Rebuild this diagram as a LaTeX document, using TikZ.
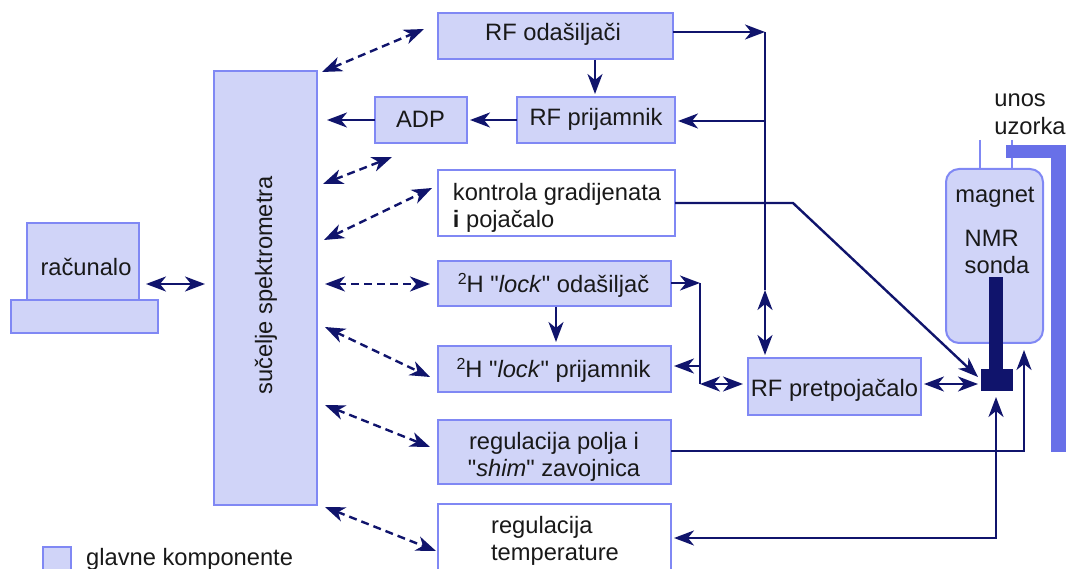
\documentclass[tikz,border=0pt]{standalone}
\usepackage{fontspec}
\setmainfont{Liberation Sans}[Ligatures=TeXOff]
\usetikzlibrary{arrows.meta}
\definecolor{boxfill}{HTML}{D0D4F8}
\definecolor{boxline}{HTML}{8088F4}
\definecolor{arrowc}{HTML}{10146C}
\definecolor{barc}{HTML}{6870E8}
\newcommand{\suptwo}{{\fontsize{16}{16}\selectfont\raisebox{8pt}{2}}}
\tikzset{
  box/.style={draw=boxline,line width=2pt,fill=boxfill,inner sep=0pt,outer sep=0pt,align=center},
  whitebox/.style={box,fill=white},
  lab/.style={inner sep=0pt,align=center,font=\fontsize{23.7}{27.5}\selectfont,text=black!90},
  tipf/.tip={Stealth[length=20pt,width=15pt,inset=6pt]},
  solidarrow/.style={draw=arrowc,line width=2.4pt,-{tipf}},
  bothsolid/.style={draw=arrowc,line width=2.4pt,{tipf}-{tipf}},
  bothdash/.style={draw=arrowc,line width=2.4pt,{tipf}-{tipf},dash pattern=on 8pt off 5pt},
  plainline/.style={draw=arrowc,line width=2.4pt},
  thinline/.style={draw=boxline,line width=1.5pt},
  solidblock/.style={fill=arrowc,draw=none,inner sep=0pt,outer sep=0pt},
  barblock/.style={fill=barc,draw=none,inner sep=0pt,outer sep=0pt},
}
\begin{document}
\begin{tikzpicture}[x=1pt,y=-1pt]
\useasboundingbox (0,0) rectangle (1066,569);
% large components
\node[box,minimum width=103,minimum height=434] (sucelje) at (265.5,288) {};
\node[lab,rotate=90] (suceljet) at (266,285.5) {sučelje spektrometra};
\node[box,minimum width=147,minimum height=33] (tipke) at (84.5,316.5) {};
\node[box,minimum width=112,minimum height=77] (racunalo) at (83,261.5) {};
\node[lab] (racunalot) at (86,267) {računalo};
% boxes
\node[box,minimum width=235,minimum height=46] (odas) at (555.5,36) {};
\node[lab] (odast) at (553,34) {RF odašiljači};
\node[box,minimum width=158,minimum height=46] (prij) at (596,120) {};
\node[lab] (prijt) at (596,119) {RF prijamnik};
\node[box,minimum width=92,minimum height=46] (adp) at (421,120) {};
\node[lab] (adpt) at (420.5,119) {ADP};
\node[whitebox,minimum width=237,minimum height=66] (grad) at (556.5,203) {};
\node[lab,align=left] (gradt) at (557,208) {kontrola gradijenata\\\textbf{i} pojačalo};
\node[box,minimum width=233,minimum height=45] (lockod) at (554.5,283.5) {};
\node[lab] (lockodt) at (553.5,285) {\suptwo H "\textit{lock}" odašiljač};
\node[box,minimum width=233,minimum height=46] (lockpr) at (554.5,369) {};
\node[lab] (lockprt) at (553.5,370) {\suptwo H "\textit{lock}" prijamnik};
\node[box,minimum width=233,minimum height=64] (polje) at (554.5,452) {};
\node[lab] (poljet) at (554,457) {regulacija polja i\\"\textit{shim}" zavojnica};
\node[whitebox,minimum width=233,minimum height=68] (temp) at (554.5,538) {};
\node[lab,align=left] (tempt) at (555,541) {regulacija\\temperature};
\node[box,minimum width=173,minimum height=57] (pret) at (834.5,386.5) {};
\node[lab] (prett) at (834.5,390) {RF pretpojačalo};
% magnet
\draw[thinline] (980,140) -- (980,169);
\draw[thinline] (1012,140) -- (1012,169);
\node[box,rounded corners=13pt,minimum width=97,minimum height=174] (magnet) at (994.5,256) {};
\node[lab] (magnett) at (995,197) {magnet};
\node[lab,align=left] (sondat) at (997,252) {NMR\\sonda};
\node[barblock,minimum width=60,minimum height=12.5] (bartop) at (1036,151.5) {};
\node[barblock,minimum width=15,minimum height=294] (barright) at (1058.5,305) {};
\node[lab,align=left] (unos) at (1030,114) {unos\\uzorka};
\node[solidblock,minimum width=14,minimum height=94] (stem) at (996,324) {};
\node[solidblock,minimum width=32,minimum height=22] (probe) at (996.5,380) {};
% legend
\node[box,minimum width=28,minimum height=26] (legbox) at (56.5,560) {};
\node[lab,anchor=base west] (legt) at (86,565) {glavne komponente};
% free ends
\coordinate (sA) at (322,72); \coordinate (oA) at (424,29);
\coordinate (sB) at (323,184); \coordinate (aB) at (392,157);
\coordinate (sC) at (324,240); \coordinate (gC) at (432,188);
\coordinate (sD) at (325,284); \coordinate (lD) at (430,284);
\coordinate (sE) at (325,327); \coordinate (lE) at (430,377);
\coordinate (sF) at (325,405); \coordinate (pF) at (430,447);
\coordinate (sG) at (325,507); \coordinate (tG) at (436,551);
\coordinate (j1) at (765,32);
\coordinate (j2) at (765,121);
\coordinate (j3) at (765,290);
\coordinate (g1) at (793,203);
\coordinate (l1) at (700,283);
\coordinate (l2) at (700,366);
\coordinate (l3) at (700,384);
\coordinate (m1) at (1024,451);
\coordinate (m2) at (1024,350);
\coordinate (t1) at (996,538);
% dashed double arrows
\draw[bothdash] (sA) -- (oA);
\draw[bothdash] (sB) -- (aB);
\draw[bothdash] (sC) -- (gC);
\draw[bothdash] (sD) -- (lD);
\draw[bothdash] (sE) -- (lE);
\draw[bothdash] (sF) -- (pF);
\draw[bothdash] (sG) -- (tG);
% solid connectors
\draw[bothsolid] (146,284) -- (205,284);
\draw[solidarrow] (adp.west) -- (327,120);
\draw[solidarrow] (prij.west) -- (470,120);
\draw[solidarrow] (595,60) -- (595,94);
\draw[solidarrow] (odas.east |- j1) -- (j1);
\draw[plainline] (j1) -- (j3);
\draw[solidarrow] (j2) -- (678,121);
\draw[bothsolid] (j3) -- (765,355);
\draw[solidarrow] (g1 -| grad.east) -- (g1) -- (978,377);
\draw[solidarrow] (lockod.east |- l1) -- (l1);
\draw[plainline] (l1) -- (l3);
\draw[solidarrow] (l2) -- (674,366);
\draw[bothsolid] (l3) -- (743,384);
\draw[solidarrow] (556,307) -- (556,342);
\draw[bothsolid] (924,384) -- (978,384);
\draw[solidarrow] (polje.east |- m1) -- (m1) -- (m2);
\draw[bothsolid] (674,538) -- (t1) -- (996,397);
\end{tikzpicture}
\end{document}
